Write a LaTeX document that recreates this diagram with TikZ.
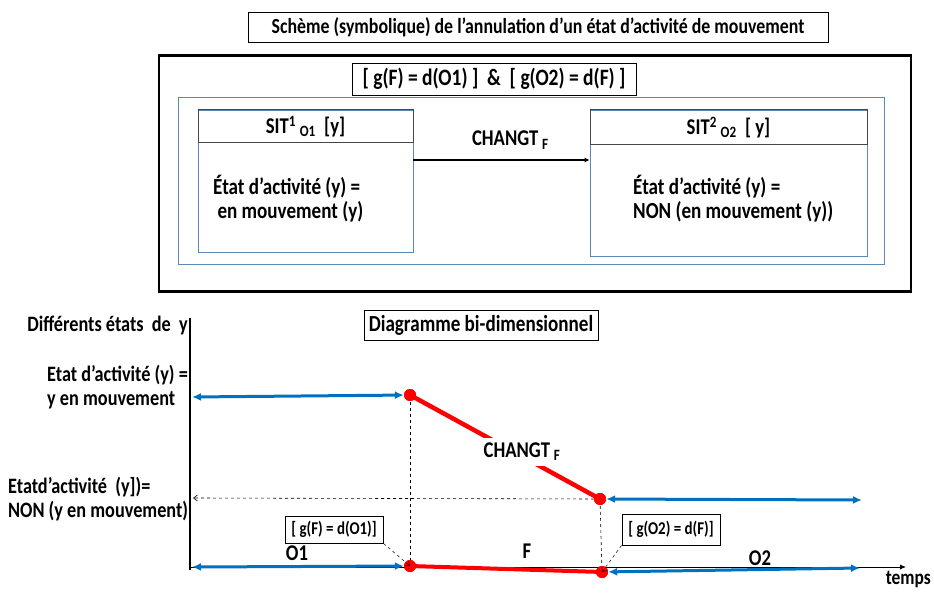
\documentclass[tikz,border=0pt]{standalone}
\usepackage{fontspec}
\setmainfont{Carlito}[FakeStretch=0.83]
\usetikzlibrary{arrows.meta}
\definecolor{myblue}{RGB}{0,112,192}
\definecolor{frameblue}{RGB}{95,135,180}
\definecolor{hdrgray}{RGB}{70,70,70}
\newcommand{\fs}[1]{\fontsize{#1}{#1}\selectfont}
\begin{document}
\begin{tikzpicture}[x=1pt,y=-1pt,font=\bfseries\fs{22.5},
  plain/.style={inner sep=0pt},
  blackbox/.style={draw=black,line width=0.8pt,inner sep=0pt},
  bluearr/.style={myblue,line width=3pt,{Latex[length=9pt,width=8pt]}-{Latex[length=9pt,width=8pt]}},
  redline/.style={red,line width=4.5pt},
  reddot/.style={circle,fill=red,inner sep=0pt,minimum size=12pt},
  dasharr/.style={dashed,line width=0.6pt,{Straight Barb[length=4pt,width=5pt]}-{Straight Barb[length=4pt,width=5pt]}},
  dashone/.style={dashed,line width=0.6pt,-{Straight Barb[length=4pt,width=6pt]}}]
\useasboundingbox (0,0) rectangle (934,593);
% ---- top part
\node[blackbox,minimum width=580pt,minimum height=30pt,font=\bfseries\fs{21.5}] (title) at (538,27) {Schème (symbolique) de l’annulation d’un état d’activité de mouvement};
\node[draw=black,line width=2.5pt,minimum width=752pt,minimum height=236pt] (outer) at (535,173.5) {};
\node[draw=frameblue,line width=1pt,minimum width=706pt,minimum height=167pt] (inner) at (531,181.5) {};
\node[blackbox,fill=white,minimum width=284pt,minimum height=32pt,font=\bfseries\fs{23.5}] (formula) at (494,79) {[ g(F) = d(O1) ]~~\&~~[ g(O2) = d(F) ]};
% SIT1
\node[draw=frameblue,line width=0.8pt,minimum width=215pt,minimum height=142pt] (sit1) at (305.5,181) {};
\node[draw=hdrgray,line width=1pt,minimum width=215pt,minimum height=33pt] (sit1h) at (305.5,126.5) {SIT\textsuperscript{1}\,\textsubscript{O1}~~[y]};
\node[plain,anchor=west,align=left,font=\bfseries\fs{23}] (sit1t) at (213,199) {État d’activité (y) =\\[1pt]\ en mouvement (y)};
% SIT2
\node[draw=frameblue,line width=0.8pt,minimum width=277pt,minimum height=146pt] (sit2) at (728.5,183) {};
\node[draw=hdrgray,line width=1pt,minimum width=277pt,minimum height=35pt] (sit2h) at (728.5,127.5) {SIT\textsuperscript{2}\,\textsubscript{O2}~~[ y]};
\node[plain,anchor=west,align=left,font=\bfseries\fs{23}] (sit2t) at (633,199) {État d’activité (y) =\\[1pt]NON (en mouvement (y))};
% arrow between
\draw[line width=1.8pt,-{Latex[length=5pt,width=5pt]}] ([yshift=21pt]sit1.east) -- ([yshift=23pt]sit2.west) node[pos=0.55,above=10pt,plain] (chg1) {CHANGT\,\textsubscript{F}};
% ---- bottom diagram
\coordinate (ytop) at (190,318);
\coordinate (orig) at (190,567);
\coordinate (tend) at (906,567);
\coordinate (a1) at (192,397);
\coordinate (m1) at (193,498);
\coordinate (o1s) at (192,567);
\coordinate (r2) at (862,500);
\coordinate (o2e) at (860,568);
\node[reddot] (d1) at (410,395) {};
\node[reddot] (d2) at (600,499) {};
\node[reddot] (d3) at (410,566) {};
\node[reddot] (d4) at (602,572) {};
\draw[line width=0.8pt,-{Latex[length=6pt,width=5pt]}] (orig) -- (tend);
\draw[line width=2pt] (ytop) -- ([yshift=-3pt]orig);
\node[plain,anchor=east,font=\bfseries\fs{22}] (lab1) at (188,326) {Différents états~~de~~y};
\node[blackbox,minimum width=234pt,minimum height=30pt,font=\bfseries\fs{23}] (diag) at (481,325) {Diagramme bi-dimensionnel};
\node[plain,anchor=west,font=\bfseries\fs{22}] (lab2) at (47,375) {Etat d’activité (y) =};
\node[plain,anchor=west,font=\bfseries\fs{22}] (lab3) at (47,400) {y en mouvement};
\node[plain,anchor=west,font=\bfseries\fs{22}] (lab4) at (8,487) {Etatd’activité~~(y])=};
\node[plain,anchor=west,font=\bfseries\fs{22}] (lab5) at (8,511) {NON (y en mouvement)};
% dashed guides
\draw[dasharr] (d1.center) -- (d3.center);
\draw[dasharr] (d2.center) -- (d4.center);
\draw[dashone] (d2.center) -- (m1);
% blue arrows
\draw[bluearr] (a1) -- (d1);
\draw[bluearr] (d2) -- (r2);
\draw[bluearr] (o1s) -- (d3);
\draw[bluearr] (d4) -- (o2e);
% red lines
\draw[redline] (d1.center) -- (d2.center);
\draw[redline,line width=4pt] (d3.center) -- (d4.center);
\node[reddot] at (d1) {};
\node[reddot] at (d2) {};
\node[reddot] at (d3) {};
\node[reddot] at (d4) {};
\node[fill=white,inner sep=5pt] (chg2) at (522,452) {CHANGT\,\textsubscript{F}};
% labels on axis
\node[plain] (O1) at (297,553) {O1};
\node[plain] (F) at (527,551) {F};
\node[plain] (O2) at (760,558) {O2};
\node[plain,anchor=east,font=\bfseries\fs{21}] (temps) at (931,580) {temps};
% small boxes
\node[blackbox,fill=white,minimum width=98pt,minimum height=27pt,font=\bfseries\fs{18}] (gf) at (334,529.5) {[ g(F) = d(O1)]};
\node[blackbox,fill=white,minimum width=98pt,minimum height=31pt,font=\bfseries\fs{18}] (go) at (671,529.5) {[ g(O2) = d(F)]};
\draw[dashone,line width=0.5pt] (gf.south east) -- (d3.center);
\draw[dashone,line width=0.5pt] (go.south west) -- (d4.center);
\end{tikzpicture}
\end{document}
